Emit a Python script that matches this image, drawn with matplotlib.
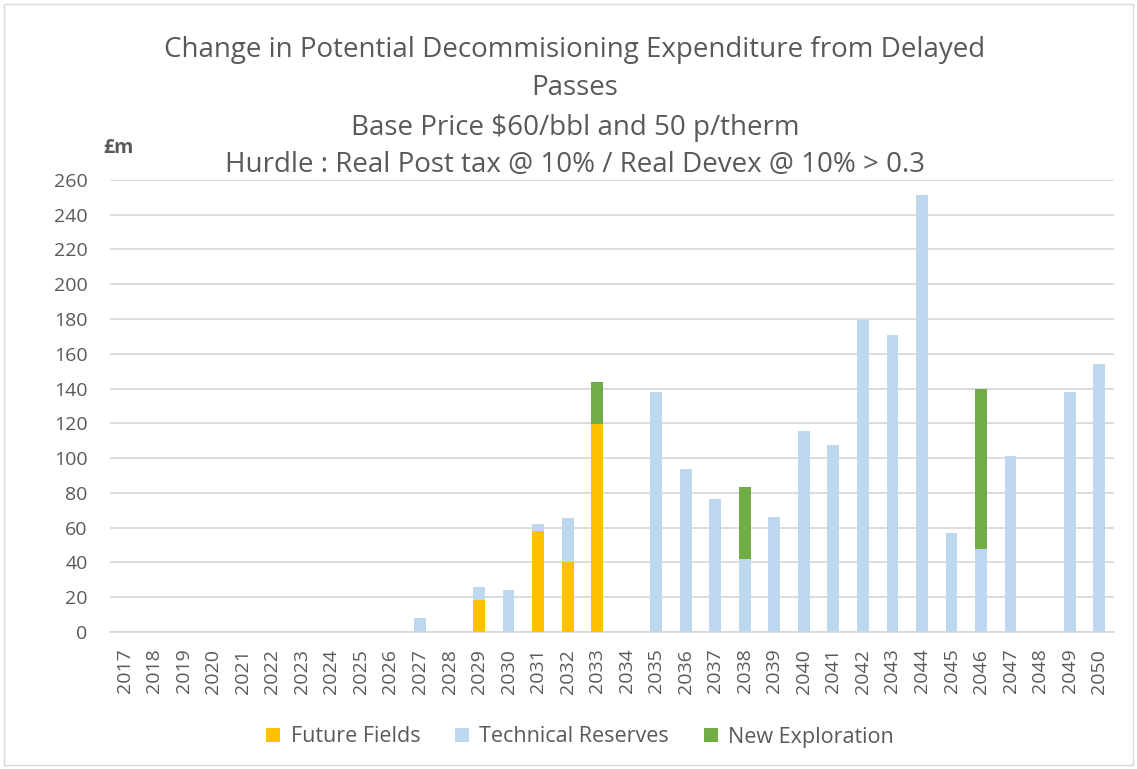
import numpy as np
import matplotlib
matplotlib.use("Agg")
import matplotlib.pyplot as plt
from matplotlib.patches import Rectangle

# years on the x axis
years = [str(y) for y in range(2017, 2051)]

# values (£m), one per year
future_fields = {2029: 18.5, 2031: 58, 2032: 40.5, 2033: 119.5}
technical_reserves = {2027: 8, 2029: 7.5, 2030: 24, 2031: 4, 2032: 25,
                      2035: 138, 2036: 93.5, 2037: 76.5, 2038: 42, 2039: 66,
                      2040: 115.5, 2041: 107.5, 2042: 179.5, 2043: 171,
                      2044: 251.5, 2045: 57, 2046: 48, 2047: 101.5,
                      2049: 138, 2050: 154}
new_exploration = {2033: 24, 2038: 41.5, 2046: 92}

title_lines = ["Change in Potential Decommisioning Expenditure from Delayed",
               "Passes",
               "Base Price $60/bbl and 50 p/therm",
               "Hurdle : Real Post tax @ 10% / Real Devex @ 10% > 0.3"]

plt.rcParams['font.family'] = ['Open Sans', 'DejaVu Sans']
grey = '#595959'

ff = np.array([future_fields.get(int(y), 0) for y in years])
tr = np.array([technical_reserves.get(int(y), 0) for y in years])
ne = np.array([new_exploration.get(int(y), 0) for y in years])

fig = plt.figure(figsize=(11.37, 7.69), dpi=100)
ax = fig.add_axes([0.0967, 0.1782, 0.8830, 0.5878])

x = np.arange(len(years))
w = 0.4
ax.bar(x, ff, w, color='#FFC000', label='Future Fields', zorder=3)
ax.bar(x, tr, w, bottom=ff, color='#BDD7EE', label='Technical Reserves', zorder=3)
ax.bar(x, ne, w, bottom=ff + tr, color='#70AD47', label='New Exploration', zorder=3)

ax.set_xlim(-0.5, len(years) - 0.5)
ax.set_ylim(0, 260)
ax.set_yticks(range(0, 261, 20))
ax.set_xticks(x)
ax.set_xticklabels(years, rotation=90)
ax.tick_params(axis='both', length=0, labelsize=14, labelcolor=grey)
ax.tick_params(axis='x', pad=12)
ax.tick_params(axis='y', pad=16)
ax.grid(axis='y', color='#D9D9D9', linewidth=1.3, zorder=0)
for s in ['top', 'right', 'left']:
    ax.spines[s].set_visible(False)
ax.spines['bottom'].set_color('#D9D9D9')
ax.spines['bottom'].set_linewidth(1.3)

ys = [50, 88, 128, 165]
for line, yp in zip(title_lines, ys):
    fig.text(575 / 1137, 1 - yp / 769, line, ha='center', va='center',
             fontsize=20, color=grey)

fig.text(118 / 1137, 1 - 148 / 769, '£m', ha='center', va='center',
         fontsize=14, fontweight='bold', color=grey)

leg = fig.legend(loc='center', bbox_to_anchor=(580 / 1137, 1 - 737 / 769),
                 ncol=3, frameon=False, fontsize=15.5, handlelength=0.65,
                 handleheight=0.65, columnspacing=1.6, handletextpad=0.5)
for t in leg.get_texts():
    t.set_color(grey)

fig.patches.append(Rectangle((4 / 1137, 4 / 769), 1 - 8 / 1137, 1 - 8 / 769,
                             transform=fig.transFigure, fill=False,
                             edgecolor='#D9D9D9', linewidth=1))

fig.savefig('out.png', dpi=100)
